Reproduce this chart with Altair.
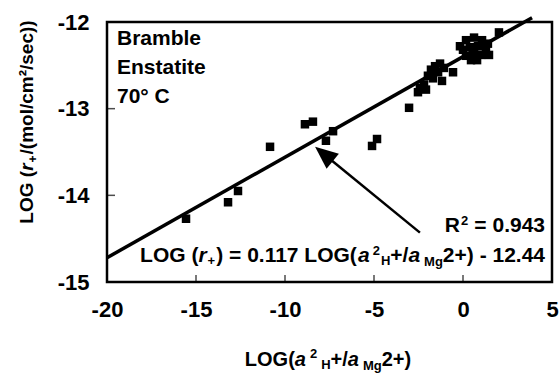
import math
import altair as alt
import pandas as pd

# ---------------- data ----------------
x_vals = [2.02, 0.17, 0.62, 1.07, 1.40, 0.84, 0.39, 0.00, 1.29, 0.62, 1.01, 0.17, 1.46, 0.45, 0.79,
          -0.17, -0.56, -1.18, -1.29, -1.57, -1.07, -1.80, -1.40, -1.97, -1.69, -2.19, -2.42, -2.08,
          -2.53, -3.03, -8.88, -8.43, -7.30, -7.70, -4.83, -5.11, -10.84, -12.64, -13.20, -15.56]
y_vals = [-12.12, -12.21, -12.18, -12.21, -12.25, -12.28, -12.29, -12.32, -12.32, -12.36, -12.38,
          -12.39, -12.38, -12.44, -12.44, -12.28, -12.58, -12.68, -12.48, -12.51, -12.53, -12.55,
          -12.58, -12.62, -12.65, -12.72, -12.76, -12.78, -12.81, -12.99, -13.18, -13.15, -13.26,
          -13.37, -13.35, -13.43, -13.44, -13.95, -14.08, -14.27]
fit_x = [-20.0, 3.88]
fit_y = [-14.72, -11.95]
arrow_tail = [-2.42, -14.43]
arrow_tip = [-8.31, -13.44]
x_ticks = [-20, -15, -10, -5, 0, 5]
y_ticks = [-15, -14, -13, -12]
info_lines = ["Bramble", "Enstatite", "70° C"]

# ---------------- layout ----------------
FONT = "Liberation Sans"
W, H = 445, 260
X0, Y0 = 107, 22
XD, YD = [-20, 5], [-15, -12]
PX = W / (XD[1] - XD[0])
PY = H / (YD[1] - YD[0])

xs = alt.Scale(domain=XD, nice=False, zero=False)
ys = alt.Scale(domain=YD, nice=False, zero=False)

WID = {'L': 611, 'O': 778, 'G': 778, ' ': 278, '(': 333, ')': 333, 'r': 389, '+': 584, '=': 584,
       '0': 556, '1': 556, '2': 556, '3': 556, '4': 556, '7': 556, '9': 556, '.': 278, 'a': 556,
       'H': 722, '/': 278, 'M': 833, 'g': 611, '-': 333, 'R': 722, 'm': 889, 'o': 611, 'l': 278,
       'c': 556, '²': 333, 's': 556, 'e': 556}


def wid(s, size):
    return sum(WID.get(c, 556) for c in s) * size / 1000.0


def seg_total(segs):
    return sum(wid(t, s) + g for (t, s, it, sh, g) in segs)


def text_piece(txt, px, py, size, italic=False, angle=0):
    kw = dict(text=txt, font=FONT, fontSize=size, fontWeight="bold",
              fontStyle="italic" if italic else "normal", align="left",
              baseline="alphabetic", color="black")
    if angle:
        kw["angle"] = angle
    return alt.Chart(alt.Data(values=[{"k": 1}])).mark_text(**kw).encode(
        x=alt.value(px - X0), y=alt.value(py - Y0))


def rich(segs, start, base, vertical=False):
    out = []
    pos = start
    for (t, s, it, sh, g) in segs:
        pos += g if not vertical else -g
        if vertical:
            out.append(text_piece(t, base + sh, pos, s, it, angle=270))
            pos -= wid(t, s)
        else:
            out.append(text_piece(t, pos, base + sh, s, it))
            pos += wid(t, s)
    return out


axis_common = dict(title=None, ticks=False, tickSize=0, domain=False, grid=False,
                   labelFont=FONT, labelFontSize=22, labelFontWeight="bold",
                   labelColor="black", labelFlush=False, labelOverlap=False,
                   labelExpr="'' + datum.value")

pts = alt.Chart(pd.DataFrame({"x": x_vals, "y": y_vals})).mark_point(
    shape="square", filled=True, color="black", size=72, opacity=1
).encode(
    x=alt.X("x:Q", scale=xs, axis=alt.Axis(values=x_ticks, labelPadding=17, **axis_common)),
    y=alt.Y("y:Q", scale=ys, axis=alt.Axis(values=y_ticks, labelPadding=18, **axis_common)),
)

fit = alt.Chart(pd.DataFrame({"x": fit_x, "y": fit_y})).mark_line(
    color="black", strokeWidth=3.5, clip=False
).encode(x=alt.X("x:Q", scale=xs), y=alt.Y("y:Q", scale=ys))

# arrow
dxp = (arrow_tip[0] - arrow_tail[0]) * PX
dyp = -(arrow_tip[1] - arrow_tail[1]) * PY
L = math.hypot(dxp, dyp)
ux, uy = dxp / L, dyp / L
back = 14
line_end = [arrow_tip[0] - ux * back / PX, arrow_tip[1] + uy * back / PY]
angle = (math.degrees(math.atan2(dyp, dxp)) + 90) % 360

arrow_line = alt.Chart(pd.DataFrame({"x": [arrow_tail[0]], "y": [arrow_tail[1]],
                                     "x2": [line_end[0]], "y2": [line_end[1]]})).mark_rule(
    color="black", strokeWidth=2.5
).encode(x=alt.X("x:Q", scale=xs), y=alt.Y("y:Q", scale=ys), x2="x2:Q", y2="y2:Q")

arrow_head = alt.Chart(pd.DataFrame({"x": [arrow_tip[0]], "y": [arrow_tip[1]]})).mark_point(
    shape="M0,0L0.85,2L-0.85,2Z", filled=True, color="black", size=520, angle=round(angle, 1),
    opacity=1, strokeWidth=0
).encode(x=alt.X("x:Q", scale=xs), y=alt.Y("y:Q", scale=ys))

# inward ticks
xt = alt.Chart(pd.DataFrame({"t": x_ticks[1:-1]})).mark_tick(
    orient="vertical", size=7, thickness=1.5, color="black", yOffset=-3.5
).encode(x=alt.X("t:Q", scale=xs), y=alt.datum(-15))
yt = alt.Chart(pd.DataFrame({"t": y_ticks[1:-1]})).mark_tick(
    orient="horizontal", size=8, thickness=1.5, color="black", xOffset=4
).encode(y=alt.Y("t:Q", scale=ys), x=alt.datum(-20))

layers = [fit, pts, arrow_line, arrow_head, xt, yt]

# top-left labels
for i, s in enumerate(info_lines):
    layers.append(text_piece(s, 117, 45 + 29 * i, 21))

# R^2
r2 = [("R", 21, False, 0, 0), ("2", 13, False, -7, 1), ("=", 21, False, 0, 6),
      ("0.943", 21, False, 0, 6)]
layers += rich(r2, 545 - seg_total(r2), 232)

# equation
eq = [("LOG (", 21, False, 0, 0), ("r", 21, True, 0, 0), ("+", 13, False, 3, 1),
      (") = 0.117 LOG(", 21, False, 0, 1), ("a", 21, True, 0, 0), ("2", 13, False, -7, 3),
      ("H", 13, False, 3, 1), ("+/", 21, False, 0, 0), ("a", 21, True, 0, 0),
      ("Mg", 13, False, 4, 4), ("2+) - 12.44", 21, False, 0, 0)]
layers += rich(eq, 545 - seg_total(eq), 262)

# x title
xtitle = [("LOG(", 20, False, 0, 0), ("a", 20, True, 0, 0), ("2", 13, False, -8, 4),
          ("H", 13, False, 3, 4), ("+/", 20, False, 0, 0), ("a", 20, True, 0, 0),
          ("Mg", 13, False, 4, 4), ("2+)", 20, False, 0, 0)]
layers += rich(xtitle, 328 - seg_total(xtitle) / 2, 366)

# y title (rotated)
ytitle = [("LOG (", 19, False, 0, 0), ("r", 19, True, 0, 0), ("+", 12, False, 4, 1),
          ("/(mol/cm²/sec))", 19, False, 0, 1)]
layers += rich(ytitle, 122 + seg_total(ytitle) / 2, 33, vertical=True)

chart = alt.layer(*layers).properties(
    width=W, height=H,
    autosize=alt.AutoSizeParams(type="none"),
    padding={"left": X0, "top": Y0, "right": 559 - X0 - W, "bottom": 373 - Y0 - H},
    background="white",
).configure_view(stroke="black", strokeWidth=2.5)

chart.save("out.html", embed_options={"renderer": "svg", "actions": False})
